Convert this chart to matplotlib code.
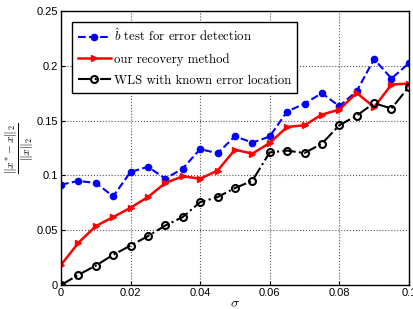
import numpy as np
import matplotlib
matplotlib.use('Agg')
import matplotlib.pyplot as plt

# noise level sigma
sigma = [0, 0.005, 0.01, 0.015, 0.02, 0.025, 0.03, 0.035, 0.04, 0.045, 0.05,
         0.055, 0.06, 0.065, 0.07, 0.075, 0.08, 0.085, 0.09, 0.095, 0.1]

# relative error ||x*-x||_2 / ||x||_2
b_test = [0.0916, 0.0949, 0.0931, 0.0809, 0.1032, 0.1078, 0.0971, 0.1062, 0.1240,
          0.1202, 0.1357, 0.1299, 0.1355, 0.1583, 0.1655, 0.1750, 0.1631, 0.1768,
          0.2061, 0.1884, 0.2024]
ours = [0.0183, 0.0385, 0.0537, 0.0620, 0.0705, 0.0803, 0.0931, 0.0992, 0.0970,
        0.1043, 0.1235, 0.1198, 0.1296, 0.1442, 0.1457, 0.1555, 0.1600, 0.1753,
        0.1622, 0.1829, 0.1838]
wls = [0.0, 0.0092, 0.0177, 0.0275, 0.0360, 0.0446, 0.0543, 0.0620, 0.0756,
       0.0802, 0.0884, 0.0951, 0.1210, 0.1226, 0.1204, 0.1290, 0.1457, 0.1546,
       0.1659, 0.1610, 0.1808]

labels = [r'$\hat{b}$ test for error detection',
          'our recovery method',
          'WLS with known error location']

plt.rcParams['mathtext.fontset'] = 'cm'
plt.rcParams['font.family'] = ['Liberation Sans', 'DejaVu Sans']

fig = plt.figure(figsize=(4.13, 3.09), dpi=100)
ax = fig.add_axes([0.1477, 0.0777, 0.8423, 0.8867])

ax.plot(sigma, b_test, color='blue', linestyle='--', linewidth=1.5,
        marker='o', markersize=4.5, label=labels[0])
ax.plot(sigma, ours, color='red', linestyle='-', linewidth=1.8,
        marker='>', markersize=5, label=labels[1])
ax.plot(sigma, wls, color='black', linestyle='-.', linewidth=1.5,
        marker='o', markersize=5, markerfacecolor='none',
        markeredgewidth=1.5, label=labels[2])

ax.set_xlim(0, 0.1)
ax.set_ylim(0, 0.25)
ax.set_xticks([0, 0.02, 0.04, 0.06, 0.08, 0.1])
ax.set_xticklabels(['0', '0.02', '0.04', '0.06', '0.08', '0.1'])
ax.set_yticks([0, 0.05, 0.1, 0.15, 0.2, 0.25])
ax.set_yticklabels(['0', '0.05', '0.1', '0.15', '0.2', '0.25'])
ax.tick_params(direction='in', labelsize=8, length=3, pad=2)
ax.grid(True, linestyle=':', color='#555555', linewidth=0.8)
for s in ax.spines.values():
    s.set_linewidth(1.0)

ax.set_xlabel(r'$\sigma$', fontsize=10, labelpad=-1)
ax.set_ylabel(r'$\frac{\|x^{*}-x\|_2}{\|x\|_2}$', fontsize=12, labelpad=0)

leg = ax.legend(loc='upper left', prop={'family': 'cmr10', 'size': 9.2},
                frameon=True, fancybox=False, edgecolor='black',
                framealpha=1, handlelength=2.6, borderaxespad=0.85,
                labelspacing=0.7, handletextpad=0.25, borderpad=0.45)
leg.get_frame().set_linewidth(1.0)

fig.savefig('out.png', dpi=100)
